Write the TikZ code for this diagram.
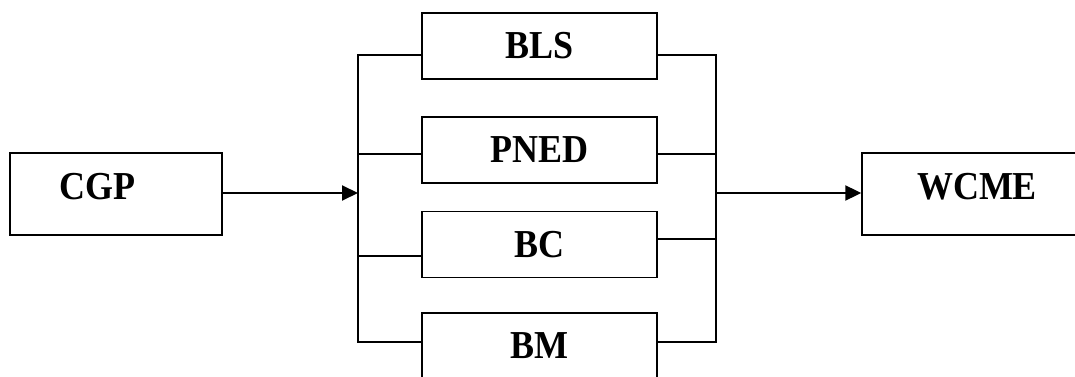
\documentclass[tikz,border=0pt]{standalone}
\usepackage{fontspec}
\setmainfont{Liberation Serif}
\usetikzlibrary{arrows.meta}
\newcommand\tallbold[1]{\scalebox{1}[1.1]{#1}}
\tikzset{
  blk/.style={draw, line width=1.4pt, rectangle, inner sep=0pt,
    minimum width=235pt, minimum height=66pt,
    font=\fontsize{36}{40}\selectfont\bfseries},
  endbox/.style={draw, line width=1.4pt, rectangle, inner sep=0pt},
  caption/.style={inner sep=0pt, font=\fontsize{36}{40}\selectfont\bfseries},
  wire/.style={line width=1.4pt},
  feed/.style={line width=2pt, -{Triangle[length=16pt,width=15pt]}}
}
\begin{document}
\begin{tikzpicture}[x=1pt,y=-1pt]
  \useasboundingbox (0,0) rectangle (1075,377);
  \clip (0,0) rectangle (1075,377);

  % source and sink blocks
  \node[endbox, minimum width=212pt, minimum height=82pt] (cgp) at (116,194) {};
  \node[caption] (cgptxt) at (97.5,187) {\tallbold{CGP}};
  \node[endbox, minimum width=228pt, minimum height=82pt] (wcme) at (976,194) {};
  \node[caption] (wcmetxt) at (977,187) {\tallbold{WCME}};

  % the four parallel blocks
  \node[blk] (bls)  at (539.5,46)  {\tallbold{BLS}};
  \node[blk] (pned) at (539.5,150) {\tallbold{PNED}};
  \node[blk] (bc)   at (539.5,244.5) {\tallbold{BC}};
  \node[blk] (bm)   at (539.5,346) {\tallbold{BM}};

  % splitting bus
  \coordinate (sA) at (358,55);
  \coordinate (sB) at (358,154);
  \coordinate (sC) at (358,256);
  \coordinate (sD) at (358,342);
  \coordinate (sIn) at (358,193);
  % joining bus
  \coordinate (jA) at (716,55);
  \coordinate (jB) at (716,154);
  \coordinate (jC) at (716,239);
  \coordinate (jD) at (716,342);
  \coordinate (jOut) at (716,193);

  \draw[wire, line cap=rect] (sA) -- (sD);
  \draw[wire, line cap=rect] (jA) -- (jD);

  \draw[wire] (sA) -- (sA -| bls.west);
  \draw[wire] (sB) -- (sB -| pned.west);
  \draw[wire] (sC) -- (sC -| bc.west);
  \draw[wire] (sD) -- (sD -| bm.west);

  \draw[wire] (jA -| bls.east) -- (jA);
  \draw[wire] (jB -| pned.east) -- (jB);
  \draw[wire] (jC -| bc.east) -- (jC);
  \draw[wire] (jD -| bm.east) -- (jD);

  % flow arrows
  \draw[feed] (sIn -| cgp.east) -- (sIn);
  \draw[feed] (jOut) -- (jOut -| wcme.west);
\end{tikzpicture}
\end{document}
